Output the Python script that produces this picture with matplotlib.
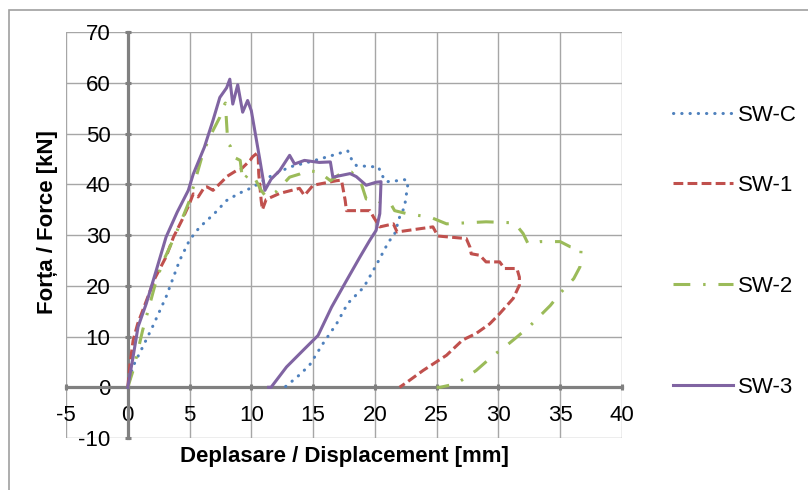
import matplotlib
matplotlib.use('Agg')
import matplotlib.pyplot as plt
from matplotlib.patches import Rectangle

plt.rcParams['font.family'] = ['Liberation Sans', 'DejaVu Sans']
plt.rcParams['axes.unicode_minus'] = False

# SW-C
swc_x = [0, 0.4, 1.2, 2.0, 3.1, 4.2, 5.0, 5.8, 7.0, 8.0, 9.0, 10.1, 11.5, 13.1, 14.7, 16.0, 17.0, 17.8,
         18.1, 18.5, 19.5, 20.3, 20.5, 20.9, 21.5, 22.4, 22.7, 22.6, 22.4, 22.0, 21.6, 21.1, 20.1, 19.1,
         17.8, 16.9, 15.8, 14.7, 13.7, 12.7]
swc_y = [0, 4, 7.9, 11.9, 17.8, 25.0, 29.0, 31.5, 34.2, 36.8, 38.2, 39.4, 41.5, 43.4, 44.4, 45.3, 46.0, 46.6,
         45.0, 43.7, 43.5, 43.4, 42.1, 40.5, 40.6, 40.9, 40.5, 38.8, 35.5, 33.5, 30.2, 28.6, 24.0, 19.7,
         16.5, 12.5, 8.6, 4.3, 2.0, 0]

# SW-1
sw1_x = [0, 0.2, 0.43, 0.8, 1.5, 2.2, 3.1, 3.7, 4.4, 5.0, 5.3, 5.7, 6.2, 6.4, 6.9, 7.7, 8.0, 8.8, 9.1,
         9.9, 10.1, 10.55, 10.6, 10.8, 10.9, 11.2, 12.3, 13.9, 14.3, 15.0, 16.9, 17.3, 17.6, 17.7, 19.6,
         19.9, 20.4, 21.5, 21.8, 24.7, 25.1, 27.4, 27.7, 27.8, 28.5, 29.0, 30.1, 30.5, 31.5, 31.7, 31.7,
         31.2, 30.1, 29.3, 28.2, 27.1, 25.8, 23.9, 22.6, 22.0]
sw1_y = [0, 5, 9.2, 12.5, 17, 21.5, 25.7, 29.6, 33, 36.2, 38.1, 37.5, 39.4, 39.5, 38.8, 40.7, 41.5, 42.7, 42.8,
         44.7, 45.4, 46.3, 42.1, 36.8, 35.0, 37.0, 38.2, 39.2, 37.8, 39.8, 40.7, 40.8, 36.8, 34.8, 34.8,
         33.5, 31.6, 32.2, 30.6, 31.6, 29.8, 29.3, 27.6, 26.3, 26.0, 24.7, 24.7, 23.4, 23.4, 21.7, 20.1,
         17.5, 14.5, 12.5, 10.6, 9.3, 6.3, 3.3, 1.0, 0]

# SW-2
sw2_x = [0, 0.43, 0.83, 1.2, 1.8, 2.3, 2.9, 3.4, 4.2, 5.0, 5.6, 6.0, 6.4, 6.9, 7.45, 7.7, 7.9, 8.1, 8.3,
         8.4, 8.7, 9.1, 9.3, 9.7, 10.1, 10.8, 11.2, 12.0, 13.1, 13.9, 14.5, 15.5, 16.4, 17.4, 18.1, 18.9,
         19.3, 20.1, 20.4, 21.2, 21.6, 22.6, 24.5, 25.8, 29.0, 31.3, 32.0, 32.4, 33.4, 35.0, 35.8, 36.7,
         36.6, 36.1, 35.1, 34.2, 32.6, 31.5, 30.7, 29.6, 28.2, 26.6, 25.3, 25.0]
sw2_y = [0, 3.3, 7.3, 11.2, 16.5, 21, 25, 27.6, 32, 36.8, 42, 45.4, 48, 50.6, 53.2, 55.2, 56.0, 48, 47.5,
         46.2, 45.2, 44.7, 40.7, 41.8, 42.0, 38.8, 37.5, 38.5, 41.4, 42.0, 42.7, 42.4, 40.7, 42.4, 42.4, 40.1,
         37.1, 37.1, 36.5, 36.5, 34.8, 34.2, 33.5, 32.2, 32.6, 32.4, 30.3, 28.3, 28.7, 28.7, 27.7, 27.3,
         23.7, 21.4, 18.8, 16.1, 12.2, 9.9, 8.3, 6.3, 3.3, 0.7, 0, 0]

# SW-3
sw3_x = [0, 0.43, 0.83, 1.5, 2.3, 3.1, 4.0, 4.9, 5.3, 6.2, 6.9, 7.45, 8.0, 8.26, 8.5, 8.9, 9.3, 9.7, 10.0,
         10.7, 11.1, 11.6, 12.3, 13.1, 13.5, 14.3, 15.5, 16.4, 16.6, 18.0, 18.5, 19.3, 20.1, 20.5, 20.4,
         20.1, 19.6, 18.8, 17.7, 16.5, 15.4, 14.2, 12.85, 11.6, 11.4]
sw3_y = [0, 6, 11.9, 16.5, 23, 29.6, 34.5, 38.8, 42, 47.3, 52.6, 57.1, 59, 60.7, 55.8, 59.6, 54.2, 56.5, 54.5,
         44.7, 38.8, 41, 42.7, 45.7, 44, 44.7, 44.3, 44.4, 41.4, 42.1, 41.5, 39.8, 40.4, 40.5, 34.2,
         30.9, 29, 25.7, 21, 15.8, 10.2, 7.3, 4, 0, 0]

labels = ['SW-C', 'SW-1', 'SW-2', 'SW-3']
colors = ['#4F81BD', '#C0504D', '#9BBB59', '#8064A2']
legend_y = [0.765, 0.622, 0.416, 0.210]

fig = plt.figure(figsize=(8.08, 4.9), dpi=100)
ax = fig.add_axes([0.0817, 0.1061, 0.688, 0.8286])

lw = 2.2
l0, = ax.plot(swc_x, swc_y, color=colors[0], lw=lw, linestyle=(0, (0.1, 2.6)), dash_capstyle='round')
l1, = ax.plot(sw1_x, sw1_y, color=colors[1], lw=lw, linestyle=(0, (3.2, 1.4)))
l2, = ax.plot(sw2_x, sw2_y, color=colors[2], lw=lw, linestyle=(0, (5.5, 4.2, 0.8, 4.2)))
l3, = ax.plot(sw3_x, sw3_y, color=colors[3], lw=lw, linestyle='-')

ax.set_xlim(-5, 40)
ax.set_ylim(-10, 70)
ax.set_xticks(range(-5, 41, 5))
ax.set_yticks(range(-10, 71, 10))
ax.grid(True, color='#a6a6a6', lw=1.0)
ax.set_axisbelow(True)

for s in ['top', 'right']:
    ax.spines[s].set_visible(False)
ax.spines['left'].set_position(('data', 0))
ax.spines['bottom'].set_position(('data', 0))
for s in ['left', 'bottom']:
    ax.spines[s].set_color('#808080')
    ax.spines[s].set_linewidth(2.3)
    ax.spines[s].set_zorder(1.5)

ax.tick_params(axis='both', direction='inout', length=5, width=2.2, color='#808080',
               labelsize=16)
ax.tick_params(axis='y', pad=10)
ax.tick_params(axis='x', pad=10)

ax.set_xlabel('Deplasare / Displacement [mm]', fontsize=16, fontweight='bold')
ax.set_ylabel('Forța / Force [kN]', fontsize=16, fontweight='bold')
ax.xaxis.set_label_coords(0.5, -0.02)
ax.yaxis.set_label_coords(-0.015, 0.532)

for line, lab, y in zip([l0, l1, l2, l3], labels, legend_y):
    fig.legend(handles=[line], labels=[lab], loc='center left', bbox_to_anchor=(0.833, y),
               frameon=False, fontsize=16, handlelength=2.7, handletextpad=0.23,
               borderpad=0, borderaxespad=0)

fig.patches.append(Rectangle((9 / 808, -0.1), 1.2, 1.1 - 10 / 490, transform=fig.transFigure,
                             fill=False, edgecolor='#a0a0a0', lw=1.2))

fig.savefig('out.png', dpi=100)
